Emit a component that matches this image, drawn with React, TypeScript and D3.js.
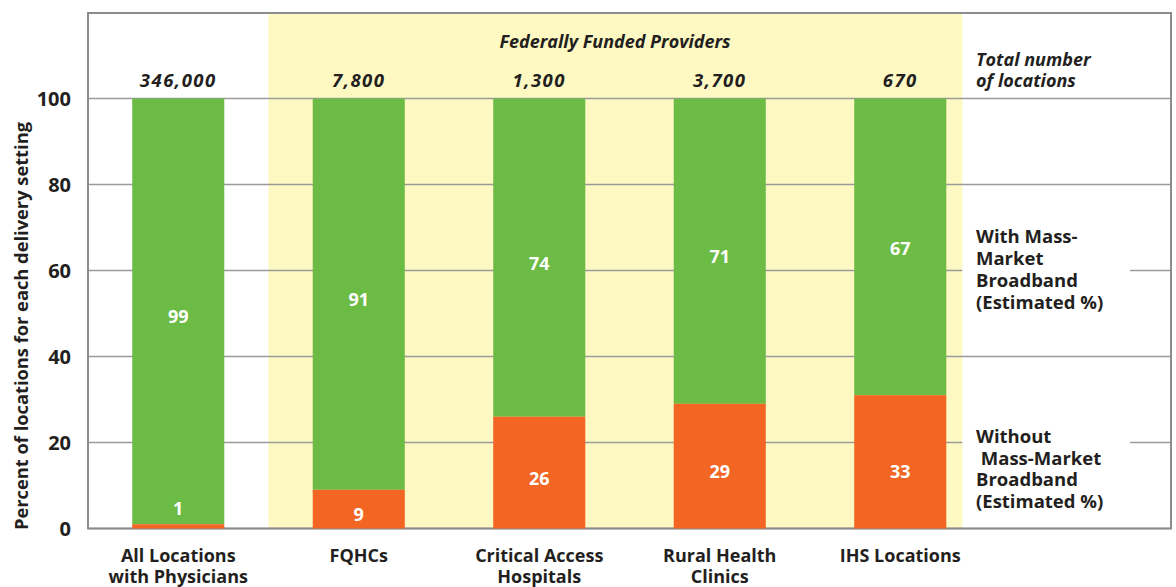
import React from "react";
import * as d3 from "d3";

const categories = ["All Locations", "FQHCs", "Critical Access", "Rural Health", "IHS Locations"];
const categorySecondLine = ["with Physicians", "", "Hospitals", "Clinics", ""];
const withBroadband = [99, 91, 74, 71, 67];
const withoutBroadband = [1, 9, 26, 29, 33];
// orange segment heights as drawn in the reference (IHS bar is drawn at ~31)
const withoutDrawn = [1, 9, 26, 29, 31];
const totalLocations = ["346,000", "7,800", "1,300", "3,700", "670"];
const yTicks = [0, 20, 40, 60, 80, 100];
const federalCategories = ["FQHCs", "Critical Access", "Rural Health", "IHS Locations"];
const withLegend = ["With Mass-", "Market", "Broadband", "(Estimated %)"];
const withoutLegend = ["Without", "\u00a0Mass-Market", "Broadband", "(Estimated %)"];

const W = 1176;
const H = 587;
const FRAME_L = 88;
const FRAME_T = 13;
const FRAME_R = 1171;
const GREEN = "#6cbb45";
const ORANGE = "#f26522";
const YELLOW = "#fef9c3";
const TEXT = "#231f20";
const GRID = "#9a9a9a";
const FONT = "'Open Sans', Lato, sans-serif";

export default function App() {
  const x = d3
    .scaleBand<string>()
    .domain(categories)
    .range([FRAME_L, 990.5])
    .paddingInner(0.49)
    .paddingOuter(0.245);
  const y = d3.scaleLinear().domain([0, 100]).range([528.5, 98.5]);
  const bw = x.bandwidth();
  const first = x(federalCategories[0])!;
  const prev = x(categories[0])! + bw;
  const yellowL = (prev + first) / 2;
  const yellowR = x(federalCategories[federalCategories.length - 1])! + bw + 16;
  const legendL = yellowR;
  const legendR = 1130;

  return (
    <svg
      width={W}
      height={H}
      style={{ position: "absolute", left: 0, top: 0, background: "#fff" }}
      fontFamily={FONT}
    >
      <rect x={yellowL} y={FRAME_T} width={yellowR - yellowL} height={y(0) - FRAME_T} fill={YELLOW} />
      {yTicks.map((t) => (
        <line key={t} x1={FRAME_L} x2={FRAME_R} y1={y(t)} y2={y(t)} stroke={GRID} strokeWidth={1.5} />
      ))}
      <rect
        x={FRAME_L}
        y={FRAME_T}
        width={FRAME_R - FRAME_L}
        height={y(0) - FRAME_T}
        fill="none"
        stroke="#8c8c8c"
        strokeWidth={2}
      />
      {categories.map((c, i) => {
        const bx = x(c)!;
        const o = withoutBroadband[i];
        const od = withoutDrawn[i];
        const g = withBroadband[i];
        return (
          <g key={c}>
            <rect x={bx} y={y(100)} width={bw} height={y(od) - y(100)} fill={GREEN} />
            <rect x={bx} y={y(od)} width={bw} height={y(0) - y(od)} fill={ORANGE} />
            <text
              x={bx + bw / 2}
              y={y(o + g / 2) + 12}
              textAnchor="middle"
              fill="#fff"
              fontWeight={700}
              fontSize={18}
            >
              {g}
            </text>
            <text
              x={bx + bw / 2}
              y={o < 5 ? y(o) - 9 : y(Math.min(o / 2, 14.5)) + 12}
              textAnchor="middle"
              fill="#fff"
              fontWeight={700}
              fontSize={18}
            >
              {o}
            </text>
            <text
              x={bx + bw / 2}
              y={87}
              textAnchor="middle"
              fill={TEXT}
              fontWeight={700}
              fontStyle="italic"
              fontSize={18.5}
              letterSpacing={1.5}
            >
              {totalLocations[i]}
            </text>
            <text x={bx + bw / 2} y={562} textAnchor="middle" fill={TEXT} fontWeight={700} fontSize={18}>
              <tspan x={bx + bw / 2}>{c}</tspan>
              {categorySecondLine[i] && (
                <tspan x={bx + bw / 2} dy={21}>
                  {categorySecondLine[i]}
                </tspan>
              )}
            </text>
          </g>
        );
      })}
      <text
        x={615}
        y={48}
        textAnchor="middle"
        fill={TEXT}
        fontWeight={700}
        fontStyle="italic"
        fontSize={18}
      >
        Federally Funded Providers
      </text>
      <text x={976} y={66} fill={TEXT} fontWeight={700} fontStyle="italic" fontSize={18}>
        <tspan x={976}>Total number</tspan>
        <tspan x={976} dy={21}>
          of locations
        </tspan>
      </text>
      {yTicks.map((t) => (
        <text key={t} x={71} y={y(t) + 7} textAnchor="end" fill={TEXT} fontWeight={700} fontSize={20}>
          {t}
        </text>
      ))}
      <text
        transform={`translate(28, 326) rotate(-90)`}
        textAnchor="middle"
        fill={TEXT}
        fontWeight={700}
        fontSize={18.3}
      >
        Percent of locations for each delivery setting
      </text>
      <rect x={legendL} y={y(60) - 2} width={legendR - legendL} height={4} fill="#fff" />
      <rect x={legendL} y={y(20) - 2} width={legendR - legendL} height={4} fill="#fff" />
      <text x={976} y={243} fill={TEXT} fontWeight={700} fontSize={18.5}>
        {withLegend.map((s, k) => (
          <tspan key={"w" + k} x={976} dy={k === 0 ? 0 : 22}>
            {s}
          </tspan>
        ))}
      </text>
      <text x={976} y={443} fill={TEXT} fontWeight={700} fontSize={18.5}>
        {withoutLegend.map((s, k) => (
          <tspan key={"o" + k} x={976} dy={k === 0 ? 0 : 21.5}>
            {s}
          </tspan>
        ))}
      </text>
    </svg>
  );
}
